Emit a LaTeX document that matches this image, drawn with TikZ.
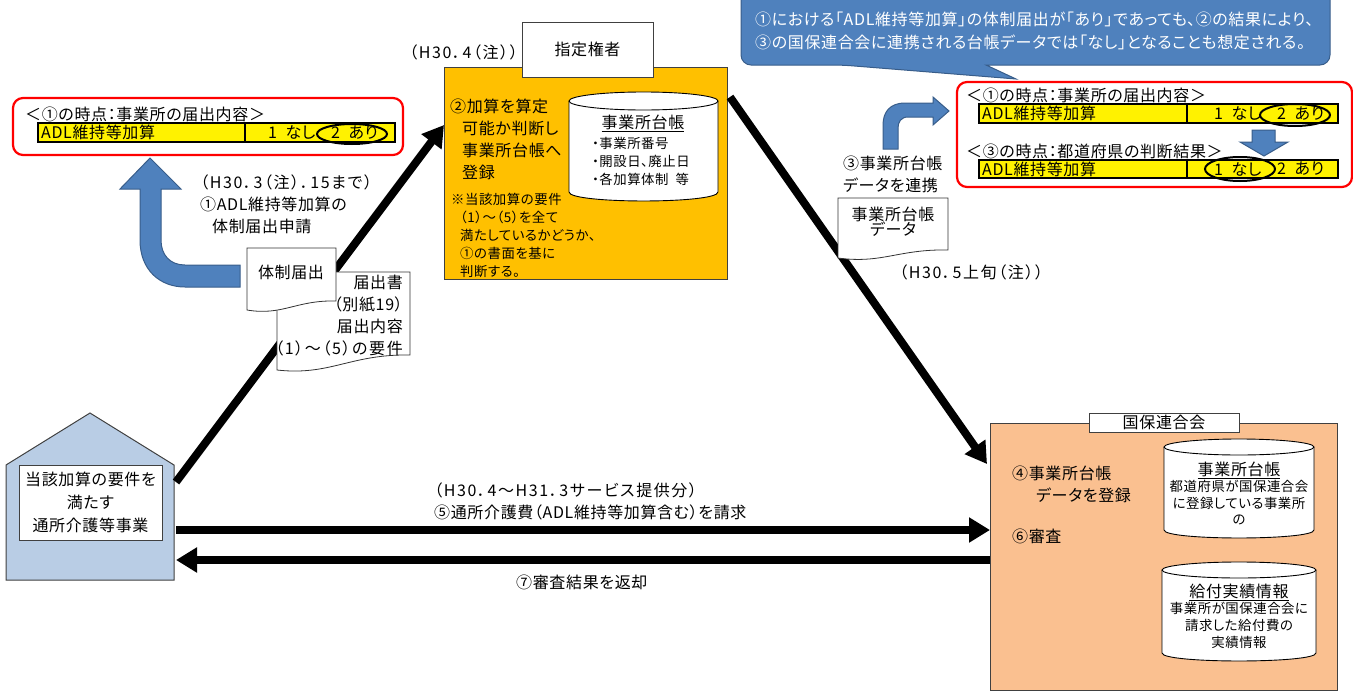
\documentclass[tikz,border=0pt]{standalone}
\usepackage{fontspec}
\setmainfont[RawFeature={+palt},LetterSpace=4]{Noto Sans CJK JP}
\newfontfamily\spacedfont[RawFeature={+palt},LetterSpace=10]{Noto Sans CJK JP}
\usetikzlibrary{arrows.meta}

\tikzset{
    lbl/.style={inner sep=0pt, anchor=west, align=left, font=\fontsize{16}{22}\selectfont},
    midlbl/.style={inner sep=0pt, align=center, font=\fontsize{16}{22}\selectfont},
    smalllbl/.style={inner sep=0pt, anchor=west, align=left, font=\fontsize{13.4}{18}\selectfont},
    panel/.style={draw=black!75, line width=1pt, inner sep=0pt, outer sep=0pt},
    bigline/.style={line width=8pt, -{Triangle[length=21pt,width=24pt]}},
    redbox/.style={draw=red, line width=2.2pt, rounded corners=10pt, fill=white},
    tablebox/.style={draw=black, line width=1.6pt, fill=yellow},
    hilite/.style={draw=black, line width=2pt},
    bluearrow/.style={draw=blueedge, line width=1pt, fill=bluefill},
    docbox/.style={draw=black!80, line width=0.8pt, fill=white},
    dbcyl/.style={draw=black, line width=0.9pt, fill=white}
}
\definecolor{bluefill}{HTML}{4F81BD}
\definecolor{blueedge}{HTML}{385D8A}
\definecolor{housefill}{HTML}{B9CDE5}
\definecolor{shiteifill}{HTML}{FFC000}
\definecolor{kokuhofill}{HTML}{FAC090}

\begin{document}
\begin{tikzpicture}[x=1pt, y=-1pt, line cap=butt, line join=miter]
    \useasboundingbox (0,0) rectangle (1353,691);

    % Main panels
    \node[panel, fill=shiteifill, minimum width=283pt, minimum height=212pt] (shitei) at (585.5,173) {};
    \node[panel, fill=kokuhofill, minimum width=347pt, minimum height=267pt] (kokuho) at (1163.5,556.5) {};
    \node[panel, fill=white, minimum width=131pt, minimum height=55pt, font=\fontsize{16}{18}\selectfont] (kenja) at (587.5,49.5) {指定権者};
    \node[panel, fill=white, minimum width=150pt, minimum height=19pt, font=\fontsize{16}{18}\selectfont] (rengo) at (1164,422.5) {国保連合会};

    % House of the service provider
    \draw[panel, fill=housefill] (6,465) -- (90,413) -- (174,465) -- (174,580) -- (6,580) -- cycle;
    \node[outer sep=0pt, inner sep=0pt, minimum width=168pt, minimum height=115pt] (house) at (90,522.5) {};
    \node[panel, fill=white, minimum width=143pt, minimum height=75pt, align=center, font=\fontsize{16}{23}\selectfont] (jigyo) at (90.5,502.5) {当該加算の要件を\\満たす\\通所介護等事業};

    % Main connectors
    \draw[bigline] ([yshift=-17pt,xshift=2pt]house.north east) -- ([yshift=48pt]shitei.west);
    \draw[bigline] ([xshift=3pt,yshift=-30pt]shitei.north east) -- ([xshift=-3pt,yshift=-41pt]kokuho.north west);
    \draw[bigline] ([xshift=2pt,yshift=-7.5pt]house.east) -- ([yshift=26.5pt]kokuho.west);
    \draw[bigline] ([yshift=-3.5pt]kokuho.west) -- ([xshift=2pt,yshift=-37.5pt]house.east);

    % Red boxes
    \draw[redbox] (13,98) rectangle (403,155);
    \draw[redbox] (957,82) rectangle (1352,187);

    % Yellow tables
    \foreach \nm/\xa/\xd/\xb/\ya/\yb/\xp in {a/38/245/395/123/142/268, b/979/1187/1338/104/123/1214, c/979/1187/1338/160/178/1214} {
        \draw[tablebox] (\xa,\ya) rectangle (\xb,\yb);
        \draw[line width=1.2pt] (\xd,\ya) -- (\xd,\yb);
        \node[lbl] (adl\nm) at ({\xa+3},{(\ya+\yb)/2}) {ADL維持等加算};
        \node[lbl] (nashi\nm) at (\xp,{(\ya+\yb)/2}) {1 \ なし};
        \node[lbl] (ari\nm) at ({\xp+63},{(\ya+\yb)/2}) {2 \ あり};
    }

    % Highlight the ticked choice
    \draw[hilite] (352,134) ellipse (35pt and 10pt);
    \draw[hilite] (1295,115) ellipse (35pt and 11pt);
    \draw[hilite] (1240,169) ellipse (35pt and 12pt);

    % Titles of the red boxes
    \node[lbl] (headA) at (25,114) {＜①の時点：事業所の届出内容＞};
    \node[lbl] (headB) at (966,95) {＜①の時点：事業所の届出内容＞};
    \node[lbl] (headC) at (966,151) {＜③の時点：都道府県の判断結果＞};

    % Blue block arrows
    \draw[bluearrow] (140,189) -- (140,240) .. controls (140,270) and (160,287) .. (185,287) -- (240,287) -- (240,265) -- (185,265) .. controls (170,265) and (161,255) .. (161,240) -- (161,189) -- (181,189) -- (150,158) -- (120,189) -- cycle;
    \draw[bluearrow] (883,149) -- (883,125) .. controls (883,112) and (890,103) .. (905,103) -- (933,103) -- (933,97) -- (949,111) -- (933,125) -- (933,117) -- (908,117) .. controls (901,117) and (898,122) .. (898,128) -- (898,149) -- cycle;
    \draw[bluearrow] (1252,130) -- (1275,130) -- (1275,142) -- (1288,142) -- (1264,156) -- (1240,142) -- (1252,142) -- cycle;

    % Callout
    \draw[bluearrow, rounded corners=10pt] (741,-15) -- (741,65) -- (842,65) [sharp corners] -- (1016,79) -- (986,65) [rounded corners=10pt] -- (1330,65) -- (1330,-15) -- cycle;
    \node[lbl, text=white, font=\fontsize{16}{22.5}\selectfont] (note) at (755,31) {①における「ADL維持等加算」の体制届出が「あり」であっても、②の結果により、\\③の国保連合会に連携される台帳データでは「なし」となることも想定される。};

    % Paper sheets
    \foreach \xa/\xb/\ya/\yr/\yl in {277/410/272/355/370, 247/336/248/301/310, 838/948/198/250/258} {
        \draw[docbox] (\xa,\ya) -- (\xb,\ya) -- (\xb,\yr) .. controls ({\xa+0.55*(\xb-\xa)},{\yr-1}) and ({\xa+0.4*(\xb-\xa)},{\yl+6}) .. (\xa,\yl) -- cycle;
    }
    \node[midlbl] (todokeA) at (291,272) {体制届出};
    \node[lbl, anchor=east, align=right, font=\fontsize{16}{22}\selectfont] (todokeB) at (403,316) {届出書\\（別紙19）\\届出内容\\{\spacedfont（1）～（5）の要件}};
    \node[midlbl, font=\fontsize{16}{15}\selectfont] (daicho) at (893,222) {事業所台帳\\データ};

    % Database cylinders
    \foreach \xa/\xb/\ya/\yb/\ry in {569/718/101/192/9, 1164/1314/447/530/8, 1162/1316/570/653/8} {
        \draw[dbcyl] (\xa,\ya) -- (\xa,\yb) .. controls (\xa,{\yb+1.33*\ry}) and (\xb,{\yb+1.33*\ry}) .. (\xb,\yb) -- (\xb,\ya);
        \draw[dbcyl] ({(\xa+\xb)/2},\ya) ellipse ({(\xb-\xa)/2*1pt} and {\ry*1pt});
    }
    \node[midlbl] (dbA) at (643,123) {\underline{事業所台帳}};
    \node[smalllbl] (dbAlist) at (592,161) {・事業所番号\\・開設日、廃止日\\・各加算体制 \ 等};
    \node[midlbl] (dbB) at (1239,470) {\underline{事業所台帳}};
    \node[midlbl, font=\fontsize{13.4}{16.5}\selectfont] (dbBtext) at (1239,503) {都道府県が国保連合会\\に登録している事業所\\の};
    \node[midlbl] (dbC) at (1239,592) {\underline{給付実績情報}};
    \node[midlbl, font=\fontsize{13.4}{17}\selectfont] (dbCtext) at (1239,625) {事業所が国保連合会に\\請求した給付費の\\実績情報};

    % Step labels
    \node[lbl] (stepA) at (200,204) {{\spacedfont（H30．3（注）．15まで）}\\①ADL維持等加算の\\\hspace*{12pt}体制届出申請};
    \node[lbl] (stepBa) at (409,52) {\spacedfont（H30．4（注））};
    \node[lbl] (stepB) at (450,139) {②加算を算定\\\hspace*{12pt}可能か判断し\\\hspace*{12pt}事業所台帳へ\\\hspace*{12pt}登録};
    \node[smalllbl] (stepBb) at (451,235) {※当該加算の要件\\\hspace*{9pt}（1）～（5）を全て\\\hspace*{9pt}満たしているかどうか、\\\hspace*{9pt}①の書面を基に\\\hspace*{9pt}判断する。};
    \node[lbl] (stepC) at (843,174) {③事業所台帳\\データを連携};
    \node[lbl] (stepCa) at (899,272) {\spacedfont（H30．5上旬（注））};
    \node[lbl] (stepD) at (1012,484) {④事業所台帳\\\hspace*{24pt}データを登録};
    \node[lbl] (stepF) at (1012,536) {⑥審査};
    \node[lbl] (stepE) at (434,501.5) {{\spacedfont（H30．4～H31．3サービス提供分）}\\⑤通所介護費（ADL維持等加算含む）を請求};
    \node[lbl] (stepG) at (516,582) {⑦審査結果を返却};
\end{tikzpicture}
\end{document}
